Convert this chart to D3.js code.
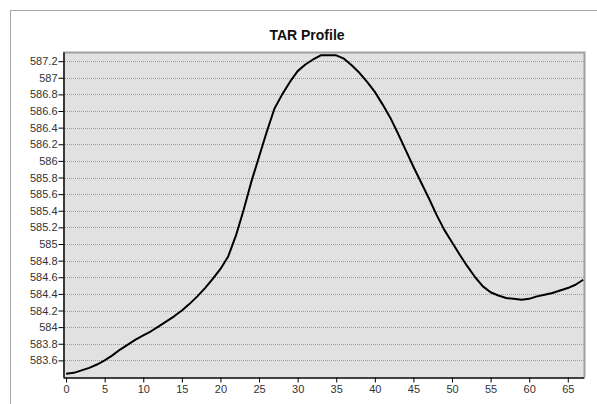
<!DOCTYPE html>
<html>
<head>
<meta charset="utf-8">
<script src="https://cdn.jsdelivr.net/npm/d3@7"></script>
<style>
  body { margin: 0; background: #fff; }
  svg { display: block; font-family: "Liberation Sans", Arial, sans-serif; }
</style>
</head>
<body>
<div id="chart"></div>
<script>
// DATA //

const title = 'TAR Profile';
const distance = d3.range( 0, 68 );
const tar = [
	583.44, 583.45, 583.48, 583.51, 583.55, 583.60, 583.66, 583.73, 583.79, 583.85,
	583.90, 583.95, 584.01, 584.07, 584.13, 584.20, 584.28, 584.37, 584.47, 584.58,
	584.70, 584.85, 585.10, 585.41, 585.75, 586.05, 586.35, 586.63, 586.80, 586.95,
	587.08, 587.16, 587.22, 587.27, 587.27, 587.27, 587.23, 587.15, 587.06, 586.95,
	586.83, 586.68, 586.52, 586.33, 586.13, 585.93, 585.74, 585.55, 585.35, 585.17,
	585.02, 584.87, 584.73, 584.60, 584.49, 584.42, 584.38, 584.35, 584.34, 584.33,
	584.34, 584.37, 584.39, 584.41, 584.44, 584.47, 584.51, 584.57
];
const xTicks = [ 0, 5, 10, 15, 20, 25, 30, 35, 40, 45, 50, 55, 60, 65 ];
const yTicks = d3.range( 18, -1, -1 ).map( i => 583.6 + i * 0.2 );


// MAIN //

const width = 597;
const height = 404;
const plot = { left: 63, top: 52, right: 584, bottom: 377 };

const svg = d3.select( '#chart' ).append( 'svg' )
	.attr( 'width', width )
	.attr( 'height', height );

// Outer frame
svg.append( 'rect' )
	.attr( 'x', 10.5 )
	.attr( 'y', 10.5 )
	.attr( 'width', 620 )
	.attr( 'height', 420 )
	.attr( 'fill', 'none' )
	.attr( 'stroke', '#a8a8a8' );

const x = d3.scaleLinear()
	.domain([ -0.4, 67.1 ])
	.range([ plot.left, plot.right ]);

const y = d3.scaleLinear()
	.domain([ 583.4, 587.31 ])
	.range([ plot.bottom, plot.top ]);

// Plot background
svg.append( 'rect' )
	.attr( 'x', plot.left )
	.attr( 'y', plot.top )
	.attr( 'width', plot.right - plot.left )
	.attr( 'height', plot.bottom - plot.top )
	.attr( 'fill', '#e1e1e1' );

// Grid lines
svg.append( 'g' )
	.selectAll( 'line' )
	.data( yTicks )
	.enter().append( 'line' )
	.attr( 'x1', plot.left )
	.attr( 'x2', plot.right )
	.attr( 'y1', d => Math.round( y( d ) ) + 0.5 )
	.attr( 'y2', d => Math.round( y( d ) ) + 0.5 )
	.attr( 'stroke', '#9a9a9a' )
	.attr( 'stroke-dasharray', '1,1' );

// Top and right borders of the plot area
svg.append( 'path' )
	.attr( 'd', `M${plot.left},${plot.top + 0.5}H${plot.right + 0.5}V${plot.bottom}` )
	.attr( 'fill', 'none' )
	.attr( 'stroke', '#a0a0a0' )
	.attr( 'stroke-width', 2 );

// Axes
const yAxis = svg.append( 'g' )
	.attr( 'transform', `translate(${plot.left + 0.5},0)` )
	.call( d3.axisLeft( y ).tickValues( yTicks ).tickSize( 5 ).tickSizeOuter( 0 )
		.tickFormat( d => String( +d.toFixed( 1 ) ) ) );

const xAxis = svg.append( 'g' )
	.attr( 'transform', `translate(0,${plot.bottom + 0.5})` )
	.call( d3.axisBottom( x ).tickValues( xTicks ).tickSize( 5 ).tickSizeOuter( 0 ) );

[ yAxis, xAxis ].forEach( g => {
	g.select( '.domain' ).attr( 'stroke', '#000' ).attr( 'stroke-width', 1.5 );
	g.selectAll( '.tick line' ).attr( 'stroke', '#000' );
	g.selectAll( '.tick text' )
		.attr( 'fill', '#333' )
		.style( 'font-size', '11px' )
		.style( 'font-family', '"Liberation Sans", Arial, sans-serif' );
});
yAxis.selectAll( '.tick text' ).attr( 'x', -6 );
xAxis.selectAll( '.tick text' ).attr( 'y', 8 );

// Profile line
const line = d3.line()
	.x( ( d, i ) => x( distance[ i ] ) )
	.y( d => y( d ) );

svg.append( 'path' )
	.datum( tar )
	.attr( 'd', line )
	.attr( 'fill', 'none' )
	.attr( 'stroke', '#000' )
	.attr( 'stroke-width', 2 )
	.attr( 'stroke-linejoin', 'round' );

// Title
svg.append( 'text' )
	.attr( 'x', 307 )
	.attr( 'y', 40 )
	.attr( 'text-anchor', 'middle' )
	.style( 'font-size', '14px' )
	.style( 'font-weight', 'bold' )
	.attr( 'fill', '#111' )
	.text( title );
</script>
</body>
</html>
